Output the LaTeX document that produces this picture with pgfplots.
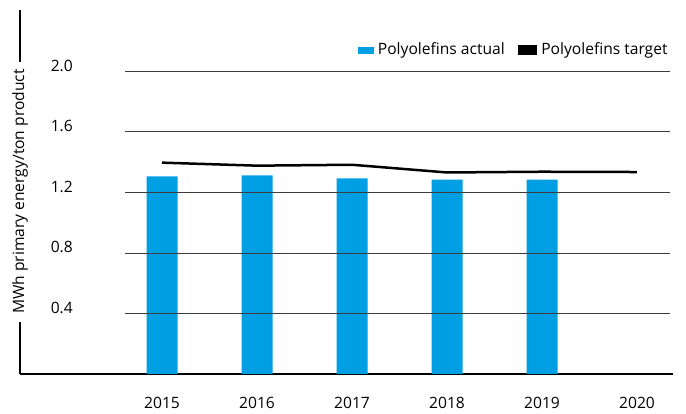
\documentclass[border=0pt]{standalone}
\usepackage{fontspec}
\setmainfont{Open Sans}
\usepackage{pgfplots}
\pgfplotsset{compat=1.18}
\definecolor{barblue}{HTML}{009FE3}
\definecolor{gridgray}{HTML}{3C3C3C}

\begin{document}
\fontsize{15.6pt}{18pt}\selectfont
\begin{tikzpicture}
\useasboundingbox (-20pt,-40pt) rectangle (666pt,374pt);
\begin{axis}[
  scale only axis, width=653pt, height=364pt,
  xmin=-1.495, xmax=5.379, ymin=0, ymax=2.406,
  clip=false,
  axis x line=bottom, axis y line=left,
  x axis line style={-, line width=1.5pt},
  y axis line style={draw=none},
  xtick={0,1,2,3,4,5},
  xticklabels={2015,2016,2017,2018,2019,2020},
  ytick={0.4,0.8,1.2,1.6,2.0},
  major tick length=0pt,
  yticklabel style={anchor=base east, inner sep=0pt, xshift=53pt,
    /pgf/number format/fixed, /pgf/number format/fixed zerofill,
    /pgf/number format/precision=1, /pgf/number format/assume math mode=true},
  xticklabel style={anchor=base, inner sep=0pt, yshift=-35pt},
  legend style={draw=none, fill=none, at={(rel axis cs:0.995,0.89)}, anchor=east,
    inner sep=0pt, /tikz/every even column/.append style={column sep=11pt}},
  legend columns=2,
]
% actual
\addplot[ybar, bar width=31pt, fill=barblue, draw=none,
  legend image code/.code={\fill[barblue] (0pt,-3.5pt) rectangle (16pt,3.5pt); \path (18pt,0pt);}]
  coordinates {(0,1.306) (1,1.313) (2,1.293) (3,1.284) (4,1.284)};
\addlegendentry{Polyolefins actual}
% grid lines over the bars
\pgfplotsinvokeforeach{0.4,0.8,1.2,1.6,2.0}{
  \addplot[gridgray, line width=0.9pt, forget plot] coordinates {(-0.389,#1) (5.347,#1)};
}
% target
\addplot[black, line width=2.5pt,
  legend image code/.code={\fill[black] (0pt,-3.5pt) rectangle (17pt,3.5pt); \path (19pt,0pt);}]
  coordinates {(0,1.397) (1,1.377) (2,1.383) (3,1.332) (4,1.337) (5,1.335)};
\addlegendentry{Polyolefins target}
% left axis line, broken by the label
\draw[line width=2pt] (rel axis cs:0,1) -- (rel axis cs:0,0.857);
\draw[line width=2pt] (rel axis cs:0,0.143) -- (rel axis cs:0,0);
\node[rotate=90, inner sep=0pt] at (rel axis cs:0,0.501) {MWh primary energy/ton product};
\end{axis}
\end{tikzpicture}
\end{document}
